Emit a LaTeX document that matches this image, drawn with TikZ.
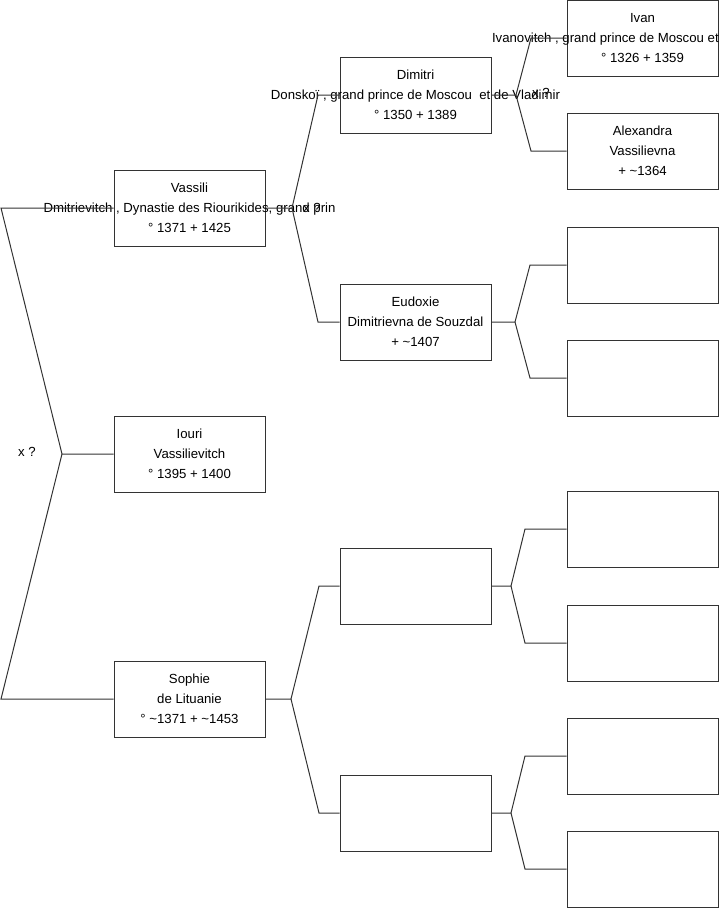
\documentclass[tikz,border=0pt]{standalone}
\usepackage{fontspec}
\setmainfont{Liberation Sans}
\usetikzlibrary{calc}
\definecolor{ink}{HTML}{000000}
\definecolor{edge}{HTML}{333333}
\newcommand{\spill}[1]{\makebox[0pt]{#1}}
\tikzset{
  x=0.75pt, y=-0.75pt,
  person/.style={draw=edge, line width=0.75pt, fill=white, align=center,
    minimum width=113.25pt, minimum height=57pt, inner sep=0pt, text=ink,
    font=\fontsize{9.9pt}{15pt}\selectfont},
  link/.style={draw=edge, line width=0.75pt},
  union/.style={font=\fontsize{9.9pt}{12pt}\selectfont, text=ink, inner sep=0pt},
}
\begin{document}
\begin{tikzpicture}
    \useasboundingbox (0,0) rectangle (719,908);
    % generation 1
    \node[person] (vassili) at (189.5,208) {Vassili\\\spill{Dmitrievitch , Dynastie des Riourikides, grand prin}\\° 1371 + 1425};
    \node[person] (iouri) at (189.5,454) {Iouri\\Vassilievitch\\° 1395 + 1400};
    \node[person] (sophie) at (189.5,699) {Sophie\\de Lituanie\\° \textasciitilde1371 + \textasciitilde1453};
    % generation 2
    \node[person] (dimitri) at (415.5,95) {Dimitri\\\spill{Donskoï , grand prince de Moscou~ et de Vladimir}\\° 1350 + 1389};
    \node[person] (eudoxie) at (415.5,322) {Eudoxie\\\spill{Dimitrievna de Souzdal}\\+ \textasciitilde1407};
    \node[person] (sfather) at (415.5,586) {};
    \node[person] (smother) at (415.5,813) {};
    % generation 3
    \node[person] (ivan) at (642.5,38) {Ivan\\\spill{\makebox[225.75pt][l]{Ivanovitch , grand prince de Moscou et}}\\° 1326 + 1359};
    \node[person] (alexandra) at (642.5,151) {Alexandra\\Vassilievna\\+ \textasciitilde1364};
    \node[person] (efather) at (642.5,265) {};
    \node[person] (emother) at (642.5,378) {};
    \node[person] (sff) at (642.5,529) {};
    \node[person] (sfm) at (642.5,643) {};
    \node[person] (smf) at (642.5,756) {};
    \node[person] (smm) at (642.5,869) {};

    % root fork
    \coordinate (rtop) at (1,208);
    \coordinate (rfork) at (62,454);
    \coordinate (rbot) at (1,699);
    \draw[link] (vassili.west) -- (rtop) -- (rfork) -- (iouri.west);
    \draw[link] (rfork) -- (rbot) -- (sophie.west);
    \node[union] (u0) at (27,452) {x ?};

    % parents forks
    \foreach \child/\pa/\ma/\fx/\ex in {vassili/dimitri/eudoxie/292/318,
        sophie/sfather/smother/291/319,
        dimitri/ivan/alexandra/516/531,
        eudoxie/efather/emother/515/530,
        sfather/sff/sfm/511/525,
        smother/smf/smm/511/525}{
      \coordinate (f-\child) at (\child.east -| \fx,0);
      \draw[link] (\child.east) -- (f-\child) -- (\pa.west -| \ex,0) -- (\pa.west);
      \draw[link] (f-\child) -- (\ma.west -| \ex,0) -- (\ma.west);
    }
    \node[union] (u1) at (312,208) {x ?};
    \node[union] (u2) at (541,93) {x ?};
  \end{tikzpicture}
\end{document}
